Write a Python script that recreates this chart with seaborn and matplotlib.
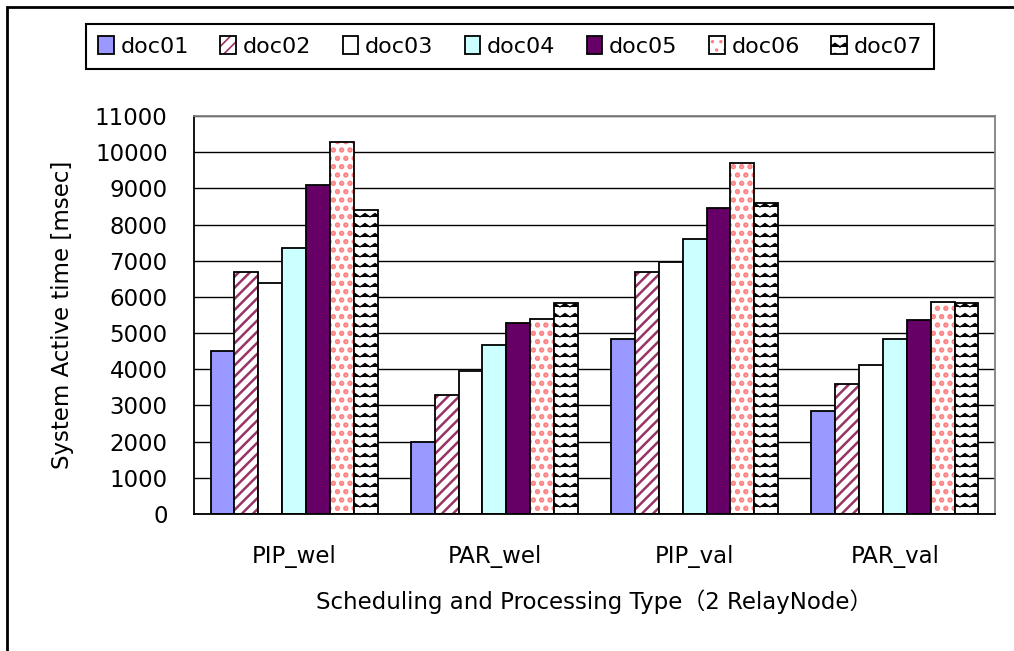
import numpy as np
import pandas as pd
import matplotlib
matplotlib.use("Agg")
import matplotlib.pyplot as plt
import matplotlib.hatch as mhatch
from matplotlib.path import Path
from matplotlib.patches import Rectangle
from matplotlib.colors import to_rgba
import seaborn as sns

# data (msec)
types = ['PIP_wel', 'PAR_wel', 'PIP_val', 'PAR_val']
docs = ['doc01', 'doc02', 'doc03', 'doc04', 'doc05', 'doc06', 'doc07']
doc01 = [4500, 1980, 4830, 2850]
doc02 = [6700, 3300, 6700, 3600]
doc03 = [6380, 3960, 6970, 4110]
doc04 = [7350, 4660, 7610, 4850]
doc05 = [9080, 5290, 8460, 5360]
doc06 = [10270, 5400, 9700, 5860]
doc07 = [8400, 5820, 8590, 5820]
values = [doc01, doc02, doc03, doc04, doc05, doc06, doc07]

# fill colour, hatch, hatch colour, hatch width per series
faces = ['#9999FF', 'white', 'white', '#CCFFFF', '#660066', 'white', 'white']
hatches = ['', '///', '', '', '', '..', '*']
hatch_cols = ['black', '#993366', 'black', 'black', 'black', '#FF8080', 'black']
hatch_lws = [1, 1.8, 1, 1, 1, 2.6, 0.9]


# zigzag hatch pattern (takes the place of the star pattern '*')
class ZigZagHatch(mhatch.HatchPatternBase):
    def __init__(self, hatch, density):
        self.num_rows = hatch.count('*') * 10
        self.teeth = 10
        self.num_vertices = self.num_rows * (2 * self.teeth + 1)

    def set_vertices_and_codes(self, vertices, codes):
        n = 2 * self.teeth + 1
        xs = np.linspace(0, 1, n)
        amp = 0.35 / max(self.num_rows, 1)
        for r in range(self.num_rows):
            y0 = (r + 0.3) / self.num_rows
            seg = slice(r * n, (r + 1) * n)
            vertices[seg, 0] = xs
            vertices[seg, 1] = y0 + amp * (np.arange(n) % 2)
            codes[seg] = Path.LINETO
            codes[r * n] = Path.MOVETO


mhatch._hatch_types = [ZigZagHatch if t is mhatch.Stars else t
                       for t in mhatch._hatch_types]

df = pd.DataFrame({
    'type': np.tile(types, len(docs)),
    'doc': np.repeat(docs, len(types)),
    'time': np.concatenate(values),
})

sns.set_style('white')
plt.rcParams['font.family'] = ['DejaVu Sans', 'Noto Sans CJK JP']
plt.rcParams['hatch.linewidth'] = 1.2
plt.rcParams['text.color'] = 'black'
plt.rcParams['axes.labelcolor'] = 'black'
plt.rcParams['xtick.color'] = 'black'
plt.rcParams['ytick.color'] = 'black'

fig = plt.figure(figsize=(10.14, 6.51), dpi=100)
ax = fig.add_axes([194 / 1014, 1 - 514 / 651, 801 / 1014, 398 / 651])

sns.barplot(data=df, x='type', y='time', hue='doc', order=types,
            hue_order=docs, palette=faces, width=0.835, gap=0,
            edgecolor='black', linewidth=1.3, saturation=1,
            legend=False, ax=ax)

for cont, h, hc, hl in zip(ax.containers, hatches, hatch_cols, hatch_lws):
    for bar in cont.patches:
        bar.set_hatch(h)
        bar._hatch_color = to_rgba(hc)
        if hasattr(bar, 'set_hatch_linewidth'):
            bar.set_hatch_linewidth(hl)

ax.set_ylim(0, 11000)
ax.set_yticks(range(0, 11001, 1000))
ax.set_xlim(-0.5, 3.5)
ax.yaxis.grid(True, color='black', linewidth=1.0)
ax.set_axisbelow(True)

ax.tick_params(axis='y', length=0, pad=19, labelsize=16.5)
ax.tick_params(axis='x', which='major', length=0, pad=22, labelsize=16.5)
ax.set_xticks([-0.5, 0.5, 1.5, 2.5, 3.5], minor=True)
ax.tick_params(axis='x', which='minor', direction='in', length=4,
               width=1.2, color='black')

for side in ['left', 'bottom']:
    ax.spines[side].set_color('black')
    ax.spines[side].set_linewidth(1.3)
for side in ['top', 'right']:
    ax.spines[side].set_color('#808080')
    ax.spines[side].set_linewidth(1.3)

ax.set_xlabel('Scheduling and Processing Type（2 RelayNode）', fontsize=16.5)
ax.set_ylabel('System Active time [msec]', fontsize=16.5)
ax.xaxis.set_label_coords(0.5, -0.19)
ax.yaxis.set_label_coords(-0.15, 0.5)

fig.legend(ax.containers, docs, loc='upper left',
           bbox_to_anchor=(86 / 1014, 1 - 24 / 651), ncol=7,
           fontsize=16, frameon=True, fancybox=False, shadow=False,
           edgecolor='black', framealpha=1, borderpad=0.55,
           handlelength=0.7, handleheight=0.85, handletextpad=0.3,
           columnspacing=1.42, borderaxespad=0)
fig.legends[0].get_frame().set_linewidth(1.5)

# outer chart frame (left and top edges visible)
fig.patches.append(Rectangle((7 / 1014, -0.5), 2, 1.5 - 7 / 651,
                             transform=fig.transFigure, fill=False,
                             edgecolor='black', linewidth=2))

fig.savefig('out.png', dpi=100)
